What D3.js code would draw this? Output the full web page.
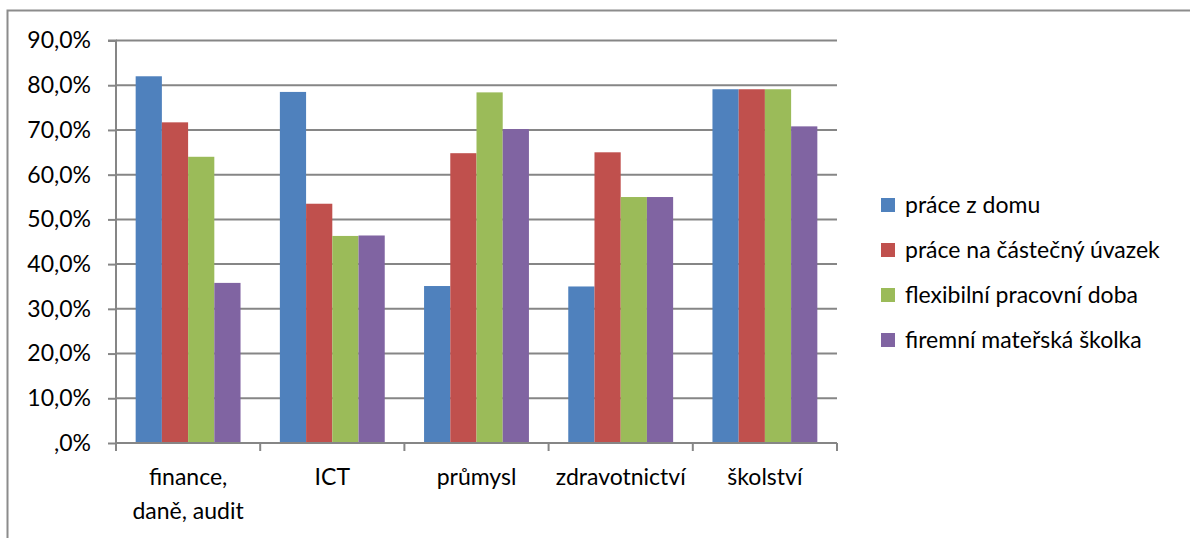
<!DOCTYPE html>
<html>
<head>
<meta charset="utf-8">
<script src="https://cdn.jsdelivr.net/npm/d3@7"></script>
<style>
  html, body { margin: 0; padding: 0; background: #fff; }
  svg { display: block; }
  text { font-family: Lato, "Open Sans", sans-serif; fill: #000; }
</style>
</head>
<body>
<svg id="chart" width="1190" height="538"></svg>
<script>
// Sectors on the category axis
const categories = ["finance,\ndaně, audit", "ICT", "průmysl", "zdravotnictví", "školství"];

// Share of companies offering each measure, per sector (%)
const seriesNames = [
  "práce z domu",
  "práce na částečný úvazek",
  "flexibilní pracovní doba",
  "firemní mateřská školka"
];
const praceZDomu     = [82.0, 78.5, 35.1, 35.0, 79.1];
const castecnyUvazek = [71.7, 53.5, 64.8, 65.0, 79.1];
const flexibilniDoba = [64.0, 46.3, 78.4, 55.0, 79.1];
const materskaSkolka = [35.8, 46.4, 70.2, 55.0, 70.8];
const seriesValues = [praceZDomu, castecnyUvazek, flexibilniDoba, materskaSkolka];

const colors = ["#4F81BD", "#C0504D", "#9BBB59", "#8064A2"];

// Value axis ticks and their labels
const tickValues = [0, 10, 20, 30, 40, 50, 60, 70, 80, 90];
const tickLabels = [",0%", "10,0%", "20,0%", "30,0%", "40,0%", "50,0%", "60,0%", "70,0%", "80,0%", "90,0%"];

const svg = d3.select("#chart");
const gridColor = "#868686";
const fontSize = 23;

// outer chart frame (extends past the canvas on the right and bottom)
svg.append("rect")
  .attr("x", 7.5).attr("y", 10.5)
  .attr("width", 1300).attr("height", 700)
  .attr("fill", "none")
  .attr("stroke", "#8c8c8c")
  .attr("stroke-width", 2);

const plot = { left: 116, right: 837, top: 40.5, bottom: 443 };

const y = d3.scaleLinear().domain([0, 90]).range([plot.bottom, plot.top]);
const x0 = d3.scaleBand().domain(categories).range([plot.left, plot.right]).padding(0);
const x1 = d3.scaleBand().domain(d3.range(seriesNames.length))
  .range([0, x0.bandwidth()]).paddingInner(0).paddingOuter(0.75);

// horizontal gridlines
svg.append("g")
  .selectAll("line")
  .data(tickValues.filter(v => v > 0))
  .join("line")
  .attr("x1", plot.left).attr("x2", plot.right)
  .attr("y1", d => y(d)).attr("y2", d => y(d))
  .attr("stroke", gridColor).attr("stroke-width", 2);

// bars
const groups = svg.append("g")
  .selectAll("g")
  .data(categories)
  .join("g")
  .attr("transform", d => `translate(${x0(d)},0)`);

groups.selectAll("rect")
  .data((c, ci) => seriesValues.map((vals, si) => ({ si, v: vals[ci] })))
  .join("rect")
  .attr("x", d => x1(d.si))
  .attr("width", x1.bandwidth())
  .attr("y", d => y(d.v))
  .attr("height", d => y(0) - y(d.v))
  .attr("fill", d => colors[d.si]);

// value axis
const yAxis = d3.axisLeft(y)
  .tickValues(tickValues)
  .tickFormat((d, i) => tickLabels[i])
  .tickSize(8)
  .tickPadding(17);

const gy = svg.append("g")
  .attr("transform", `translate(${plot.left},0)`)
  .call(yAxis);
gy.select(".domain").attr("stroke", gridColor).attr("stroke-width", 2)
  .attr("d", `M-8,${plot.top}H0V${plot.bottom}`);
gy.selectAll(".tick line").attr("stroke", gridColor).attr("stroke-width", 2);
gy.selectAll(".tick text")
  .style("font-size", fontSize + "px")
  .attr("fill", "#000");

// category axis
const xAxis = d3.axisBottom(x0).tickSize(0).tickFormat("");
const gx = svg.append("g")
  .attr("transform", `translate(0,${plot.bottom})`)
  .call(xAxis);
gx.select(".domain").attr("stroke", gridColor).attr("stroke-width", 2)
  .attr("d", `M${plot.left},0H${plot.right}`);

// category boundary tick marks
gx.selectAll(".boundary")
  .data(categories.map(c => x0(c)).concat([plot.right]))
  .join("line")
  .attr("class", "boundary")
  .attr("x1", d => d).attr("x2", d => d)
  .attr("y1", 0).attr("y2", 8)
  .attr("stroke", gridColor).attr("stroke-width", 2);

// category labels (multi-line)
gx.selectAll(".tick").each(function(d) {
  const t = d3.select(this).select("text");
  t.text(null)
    .attr("y", 0)
    .attr("dy", null)
    .style("font-size", fontSize + "px")
    .attr("fill", "#000");
  d.split("\n").forEach((line, i) => {
    t.append("tspan")
      .attr("x", 0)
      .attr("y", 42 + i * 34)
      .text(line);
  });
});

// legend
const legend = svg.append("g")
  .selectAll("g")
  .data(seriesNames)
  .join("g")
  .attr("transform", (d, i) => `translate(881,${205 + i * 45})`);

legend.append("rect")
  .attr("x", 0).attr("y", -7)
  .attr("width", 14).attr("height", 14)
  .attr("fill", (d, i) => colors[i]);

legend.append("text")
  .attr("x", 24).attr("y", 0)
  .attr("dy", "0.35em")
  .style("font-size", fontSize + "px")
  .text(d => d);
</script>
</body>
</html>
